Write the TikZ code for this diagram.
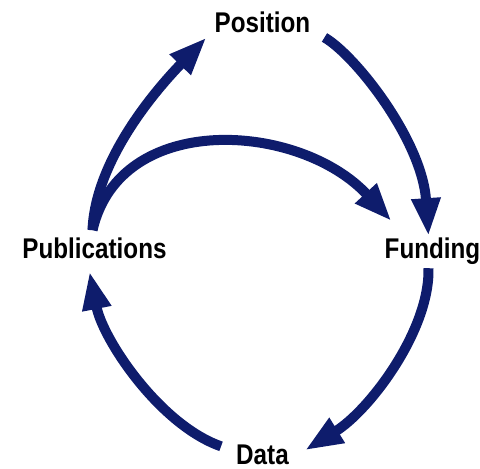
\documentclass[tikz,border=0pt]{standalone}
\usepackage{fontspec}
\newfontfamily\labelfont{Liberation Sans}[FakeStretch=0.85]
\usepackage{tikz}
\usetikzlibrary{arrows.meta}
\definecolor{navy}{RGB}{14,28,108}

\begin{document}
\begin{tikzpicture}[x=1pt,y=-1pt,>={Triangle[length=38pt,width=27pt]},
    label/.style={inner sep=0pt,anchor=base,font=\labelfont\bfseries\fontsize{28.5}{28.5}\selectfont},
    flow/.style={->,draw=navy,line width=10pt}]
					\useasboundingbox (0,0) rectangle (480,469);

					\node (position) [label] at (262.5,32) {Position};
					\node (publications) [label] at (94.5,258) {Publications};
					\node (funding) [label] at (432.5,258) {Funding};
					\node (data) [label] at (262.5,464) {Data};

					\draw[flow] ([xshift=-2pt,yshift=7pt]publications.north) .. controls (95,165) and (148,98) .. ([xshift=-8pt,yshift=-5pt]position.south west);
					\draw[flow] ([xshift=-2pt,yshift=7pt]publications.north) .. controls (120,110) and (300,122) .. ([xshift=7pt,yshift=16pt]funding.north west);
					\draw[flow] ([xshift=14pt,yshift=-5pt]position.south east) .. controls (355,55) and (422,140) .. ([xshift=-4pt,yshift=1pt]funding.north);
					\draw[flow] ([xshift=-4pt,yshift=-4pt]funding.south) .. controls (430,330) and (370,410) .. ([xshift=16pt,yshift=4pt]data.east);
					\draw[flow] ([xshift=-15pt,yshift=8pt]data.west) .. controls (160,425) and (103,340) .. ([xshift=-5pt,yshift=-13pt]publications.south);
				\end{tikzpicture}
\end{document}
